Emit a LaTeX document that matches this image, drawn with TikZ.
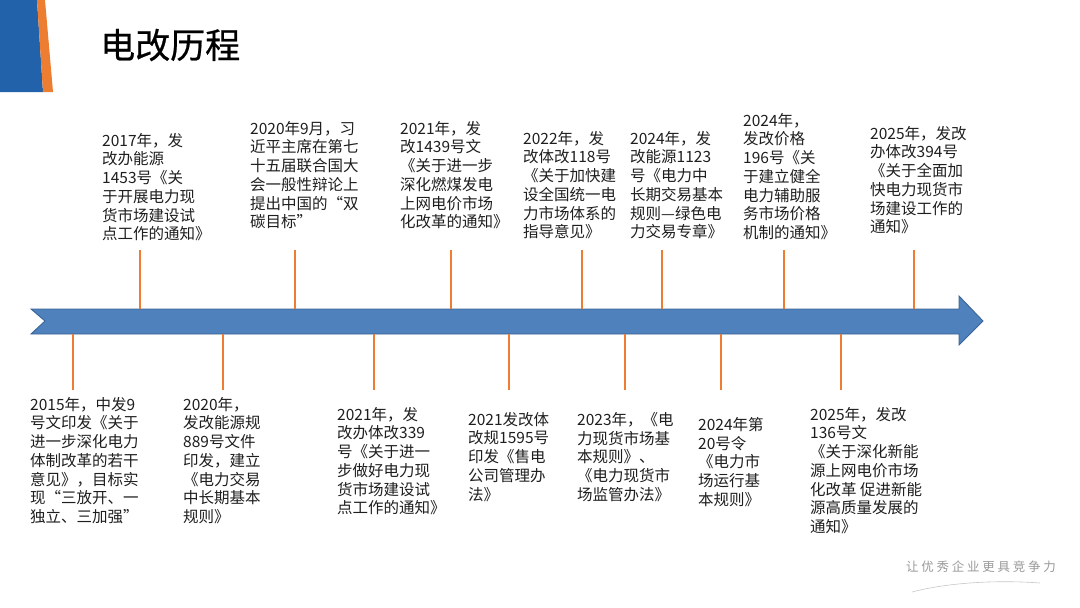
\documentclass[tikz,border=0pt]{standalone}
\usepackage{fontspec}
\setmainfont{Noto Sans CJK SC}
\usetikzlibrary{positioning}
\definecolor{barblue}{HTML}{4F81BD}
\definecolor{baredge}{HTML}{3B6496}
\definecolor{tickorange}{HTML}{ED7D31}
\definecolor{cornerblue}{HTML}{2262AB}
\definecolor{textgray}{HTML}{1E1E1E}

\begin{document}
\begin{tikzpicture}[
    x=1pt, y=-1pt,
    font=\fontsize{15.5}{18.7}\selectfont,
    every node/.style={align=left, inner sep=0pt, text=textgray},
    event/.style={anchor=north west},
    tick/.style={draw=tickorange, line width=1.3pt},
    timeline/.style={fill=barblue, draw=baredge, line width=0.9pt, line join=miter}
]
\useasboundingbox (0,0) rectangle (1080,608);
% corner mark and title
\fill[cornerblue] (0,0) -- (37,0) -- (43,92) -- (0,92) -- cycle;
\fill[tickorange] (37,0) -- (45,0) -- (53,92) -- (43,92) -- cycle;
\node[anchor=west, text=black, font=\fontsize{35}{35}\selectfont\addfontfeatures{FakeBold=0.6}] (title) at (100,45) {电改历程};
% the time line
\coordinate (shafttop) at (0,309);
\coordinate (shaftbot) at (0,334);
\draw[timeline] (31,309) -- (959,309) -- (959,296) -- (983,321) -- (959,345)
    -- (959,334) -- (31,334) -- (45,321) -- cycle;
% events above the line
\node[event] (e2017) at (102,133) {2017年，发\\改办能源\\1453号《关\\于开展电力现\\货市场建设试\\点工作的通知》};
\node[event] (e2020b) at (250,121) {2020年9月，习\\近平主席在第七\\十五届联合国大\\会一般性辩论上\\提出中国的“双\\碳目标”};
\node[event] (e2021a) at (400,121) {2021年，发\\改1439号文\\《关于进一步\\深化燃煤发电\\上网电价市场\\化改革的通知》};
\node[event] (e2022) at (523,131) {2022年，发\\改体改118号\\《关于加快建\\设全国统一电\\力市场体系的\\指导意见》};
\node[event] (e2024a) at (630,131) {2024年，发\\改能源1123\\号《电力中\\长期交易基本\\规则—绿色电\\力交易专章》};
\node[event] (e2024b) at (743,113) {2024年，\\发改价格\\196号《关\\于建立健全\\电力辅助服\\务市场价格\\机制的通知》};
\node[event] (e2025a) at (870,126) {2025年，发改\\办体改394号\\《关于全面加\\快电力现货市\\场建设工作的\\通知》};
% events below the line
\node[event] (e2015) at (30,397) {2015年，中发9\\号文印发《关于\\进一步深化电力\\体制改革的若干\\意见》，目标实\\现“三放开、一\\独立、三加强”};
\node[event] (e2020a) at (183,397) {2020年，\\发改能源规\\889号文件\\印发，建立\\《电力交易\\中长期基本\\规则》};
\node[event] (e2021b) at (337,407) {2021年，发\\改办体改339\\号《关于进一\\步做好电力现\\货市场建设试\\点工作的通知》};
\node[event] (e2021c) at (468,412) {2021发改体\\改规1595号\\印发《售电\\公司管理办\\法》};
\node[event] (e2023) at (577,412) {2023年，《电\\力现货市场基\\本规则》、\\《电力现货市\\场监管办法》};
\node[event] (e2024c) at (698,417) {2024年第\\20号令\\《电力市\\场运行基\\本规则》};
\node[event] (e2025b) at (810,407) {2025年，发改\\136号文\\《关于深化新能\\源上网电价市场\\化改革 促进新能\\源高质量发展的\\通知》};
% ticks
\coordinate (k2017) at (140,250);
\coordinate (k2020b) at (295,250);
\coordinate (k2021a) at (451,250);
\coordinate (k2022) at (582,250);
\coordinate (k2024a) at (662,250);
\coordinate (k2024b) at (784,250);
\coordinate (k2025a) at (914,250);
\draw[tick] (k2017) -- (k2017 |- shafttop);
\draw[tick] (k2020b) -- (k2020b |- shafttop);
\draw[tick] (k2021a) -- (k2021a |- shafttop);
\draw[tick] (k2022) -- (k2022 |- shafttop);
\draw[tick] (k2024a) -- (k2024a |- shafttop);
\draw[tick] (k2024b) -- (k2024b |- shafttop);
\draw[tick] (k2025a) -- (k2025a |- shafttop);
\coordinate (k2015) at (73,390);
\coordinate (k2020a) at (223,390);
\coordinate (k2021b) at (374,390);
\coordinate (k2021c) at (509,390);
\coordinate (k2023) at (625,390);
\coordinate (k2024c) at (721,390);
\coordinate (k2025b) at (841,390);
\draw[tick] (shaftbot -| k2015) -- (k2015);
\draw[tick] (shaftbot -| k2020a) -- (k2020a);
\draw[tick] (shaftbot -| k2021b) -- (k2021b);
\draw[tick] (shaftbot -| k2021c) -- (k2021c);
\draw[tick] (shaftbot -| k2023) -- (k2023);
\draw[tick] (shaftbot -| k2024c) -- (k2024c);
\draw[tick] (shaftbot -| k2025b) -- (k2025b);
% motto
\node[text=gray!80, font=\fontsize{12.5}{12.5}\selectfont\addfontfeatures{LetterSpace=22}] (motto) at (981,567) {让优秀企业更具竞争力};
\draw[gray!45, line width=0.6pt] (912,592) .. controls (950,582) and (1000,580) .. (1040,583);
\end{tikzpicture}
\end{document}
